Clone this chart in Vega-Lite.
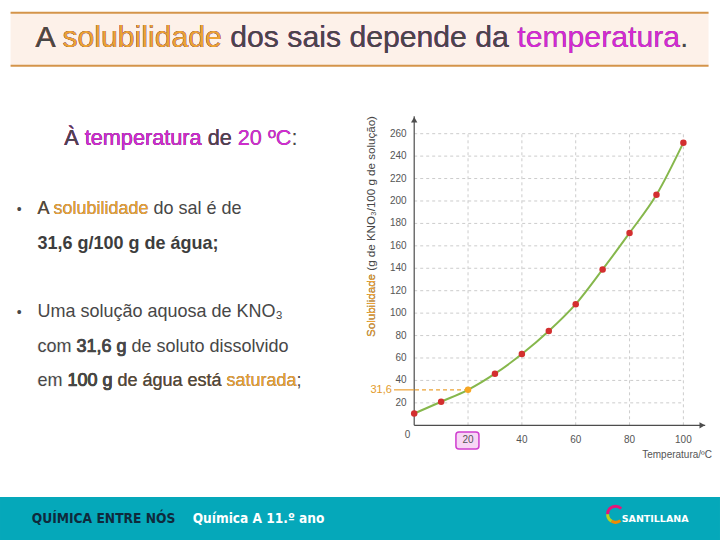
{
  "$schema": "https://vega.github.io/schema/vega-lite/v6.json",
  "background": "white",
  "padding": {"top": 11.7, "left": 0, "right": 0, "bottom": 0},
  "config": {
    "view": {"stroke": null},
    "font": "Liberation Sans"
  },
  "datasets": {
    "bordas": [{"borda": 0}, {"borda": 1}],
    "cabecalho": [
      {"texto": "A solubilidade dos sais depende da temperatura.", "cor": "escuro"},
      {"texto": "A solubilidade dos sais depende da temperatura", "cor": "magenta"},
      {"texto": "A solubilidade dos sais depende da", "cor": "escuro"},
      {"texto": "A solubilidade", "cor": "laranja"},
      {"texto": "A", "cor": "escuro"}
    ],
    "titulo_texto": [
      {"linha": 0, "texto": "À temperatura de 20 ºC:", "cor": "escuro"},
      {"linha": 0, "texto": "À temperatura de 20 ºC", "cor": "magenta"},
      {"linha": 0, "texto": "À temperatura de", "cor": "escuro"},
      {"linha": 0, "texto": "À temperatura", "cor": "magenta"},
      {"linha": 0, "texto": "À", "cor": "escuro"}
    ],
    "corpo": [
      {"linha": 2, "texto": "A solubilidade do sal é de", "cor": "escuro", "traco": "nenhum"},
      {"linha": 2, "texto": "A solubilidade", "cor": "laranja", "traco": "nenhum"},
      {"linha": 2, "texto": "A", "cor": "escuro", "traco": "nenhum"},
      {"linha": 5, "texto": "Uma solução aquosa de KNO₃", "cor": "escuro", "traco": "nenhum"},
      {"linha": 6, "texto": "com 31,6 g de soluto dissolvido", "cor": "escuro", "traco": "nenhum"},
      {"linha": 6, "texto": "com 31,6 g", "cor": "escuro", "traco": "negrito"},
      {"linha": 6, "texto": "com", "cor": "branco", "traco": "apagar"},
      {"linha": 6, "texto": "com", "cor": "escuro", "traco": "nenhum"},
      {"linha": 7, "texto": "em 100 g de água está saturada;", "cor": "escuro", "traco": "nenhum"},
      {"linha": 7, "texto": "em 100 g de água está saturada", "cor": "laranja", "traco": "nenhum"},
      {"linha": 7, "texto": "em 100 g de água está", "cor": "escuro", "traco": "nenhum"},
      {"linha": 7, "texto": "em 100 g", "cor": "escuro", "traco": "negrito"},
      {"linha": 7, "texto": "em", "cor": "branco", "traco": "apagar"},
      {"linha": 7, "texto": "em", "cor": "escuro", "traco": "nenhum"}
    ],
    "corpo_negrito": [{"linha": 3, "texto": "31,6 g/100 g de água;"}],
    "marcadores": [{"linha": 2, "simbolo": "•"}, {"linha": 5, "simbolo": "•"}],
    "kno3": [
      {"temperatura": 0, "solubilidade": 10.5},
      {"temperatura": 10, "solubilidade": 21},
      {"temperatura": 20, "solubilidade": 31.6},
      {"temperatura": 30, "solubilidade": 46},
      {"temperatura": 40, "solubilidade": 63.5},
      {"temperatura": 50, "solubilidade": 84},
      {"temperatura": 60, "solubilidade": 108},
      {"temperatura": 70, "solubilidade": 139},
      {"temperatura": 80, "solubilidade": 171.5},
      {"temperatura": 90, "solubilidade": 205.5},
      {"temperatura": 100, "solubilidade": 252}
    ],
    "grade_x": [{"temperatura": 20}, {"temperatura": 40}, {"temperatura": 60}, {"temperatura": 80}, {"temperatura": 100}],
    "grade_y": [
      {"solubilidade": 20}, {"solubilidade": 40}, {"solubilidade": 60}, {"solubilidade": 80},
      {"solubilidade": 100}, {"solubilidade": 120}, {"solubilidade": 140}, {"solubilidade": 160},
      {"solubilidade": 180}, {"solubilidade": 200}, {"solubilidade": 220}, {"solubilidade": 240},
      {"solubilidade": 260}
    ],
    "destaque": [{"temperatura": 20, "solubilidade": 31.6, "rotulo": "31,6"}],
    "anotacoes": [
      {"id": "origem", "texto": "0"},
      {"id": "eixo_x", "texto": "Temperatura/ºC"}
    ],
    "titulo_eixo_y": [
      {"texto": "Solubilidade (g de KNO₃/100 g de solução)", "cor": "escuro"},
      {"texto": "Solubilidade", "cor": "laranja"}
    ],
    "rodape": [
      {"parte": "colecao", "texto": "QUÍMICA ENTRE NÓS"},
      {"parte": "disciplina", "texto": "Química A  11.º ano"},
      {"parte": "editora", "texto": "SANTILLANA"}
    ]
  },
  "spacing": 36.2,
  "center": true,
  "vconcat": [
    {
      "spacing": 48.6,
      "center": true,
      "vconcat": [
        {
          "width": 698,
          "height": 53,
          "layer": [
            {
              "data": {"name": "bordas"},
              "transform": [{"filter": "datum.borda === 0"}],
              "mark": {"type": "rect", "color": "#fdf1e9"},
              "encoding": {
                "x": {"datum": 0, "type": "quantitative", "scale": {"domain": [0, 100], "nice": false, "zero": false}, "axis": null},
                "x2": {"datum": 100},
                "y": {"datum": 0, "type": "quantitative", "scale": {"domain": [0, 1], "nice": false, "zero": false}, "axis": null},
                "y2": {"datum": 1}
              }
            },
            {
              "data": {"name": "bordas"},
              "mark": {"type": "rule", "color": "#d4944a", "strokeWidth": 2},
              "encoding": {
                "x": {"datum": 0, "type": "quantitative", "axis": null},
                "x2": {"datum": 100},
                "y": {"field": "borda", "type": "quantitative", "axis": null}
              }
            },
            {
              "data": {"name": "cabecalho"},
              "mark": {"type": "text", "align": "left", "baseline": "alphabetic", "fontSize": 30.2, "font": "Liberation Sans"},
              "encoding": {
                "x": {"datum": 3.58, "type": "quantitative", "axis": null},
                "y": {"datum": 0.347, "type": "quantitative", "axis": null},
                "text": {"field": "texto"},
                "color": {"field": "cor", "type": "nominal", "legend": null,
                  "scale": {"domain": ["escuro", "laranja", "magenta", "branco"], "range": ["#474747", "#eca234", "#d42ad4", "#ffffff"]}}
              }
            }
          ]
        },
        {
          "spacing": 0,
          "hconcat": [
            {
              "width": 357.5,
              "height": 344.4,
              "layer": [
                {
                  "data": {"name": "titulo_texto"},
                  "mark": {"type": "text", "align": "left", "baseline": "alphabetic", "fontSize": 21.7},
                  "encoding": {
                    "x": {"datum": 15.66, "type": "quantitative", "scale": {"domain": [0, 100], "nice": false, "zero": false}, "axis": null},
                    "y": {"field": "linha", "type": "quantitative", "scale": {"domain": [-0.84, 9.16], "reverse": true, "nice": false, "zero": false}, "axis": null},
                    "text": {"field": "texto"},
                    "color": {"field": "cor", "type": "nominal", "legend": null,
                      "scale": {"domain": ["escuro", "laranja", "magenta", "branco"], "range": ["#474747", "#eca234", "#d42ad4", "#ffffff"]}}
                  }
                },
                {
                  "data": {"name": "corpo"},
                  "mark": {"type": "text", "align": "left", "baseline": "alphabetic", "fontSize": 18},
                  "encoding": {
                    "x": {"datum": 8.2, "type": "quantitative", "axis": null},
                    "y": {"field": "linha", "type": "quantitative", "axis": null},
                    "text": {"field": "texto"},
                    "color": {"field": "cor", "type": "nominal", "legend": null,
                      "scale": {"domain": ["escuro", "laranja", "magenta", "branco"], "range": ["#474747", "#eca234", "#d42ad4", "#ffffff"]}},
                    "stroke": {"condition": [
                      {"test": "datum.traco === 'negrito'", "value": "#474747"},
                      {"test": "datum.traco === 'apagar'", "value": "#ffffff"}
                    ], "value": "transparent"},
                    "strokeWidth": {"condition": [
                      {"test": "datum.traco === 'negrito'", "value": 0.75},
                      {"test": "datum.traco === 'apagar'", "value": 1.6}
                    ], "value": 0}
                  }
                },
                {
                  "data": {"name": "corpo_negrito"},
                  "mark": {"type": "text", "align": "left", "baseline": "alphabetic", "fontSize": 18, "fontWeight": "bold", "color": "#3d3d3d"},
                  "encoding": {
                    "x": {"datum": 8.2, "type": "quantitative", "axis": null},
                    "y": {"field": "linha", "type": "quantitative", "axis": null},
                    "text": {"field": "texto"}
                  }
                },
                {
                  "data": {"name": "marcadores"},
                  "mark": {"type": "text", "align": "center", "baseline": "alphabetic", "fontSize": 14, "color": "#474747"},
                  "encoding": {
                    "x": {"datum": 3.08, "type": "quantitative", "axis": null},
                    "y": {"field": "linha", "type": "quantitative", "axis": null},
                    "text": {"field": "simbolo"}
                  }
                }
              ]
            },
            {
              "width": 291,
              "height": 309,
              "layer": [
                {
                  "data": {"name": "grade_x"},
                  "mark": {"type": "rule", "color": "#cccccc", "strokeWidth": 1, "strokeDash": [3, 3]},
                  "encoding": {
                    "x": {"field": "temperatura", "type": "quantitative", "scale": {"domain": [0, 108.1], "nice": false, "zero": false}, "axis": null},
                    "y": {"datum": 0, "type": "quantitative", "scale": {"domain": [0, 275.5], "nice": false, "zero": false}, "axis": null},
                    "y2": {"datum": 260}
                  }
                },
                {
                  "data": {"name": "grade_y"},
                  "mark": {"type": "rule", "color": "#cccccc", "strokeWidth": 1, "strokeDash": [3, 3]},
                  "encoding": {
                    "y": {"field": "solubilidade", "type": "quantitative", "axis": null},
                    "x": {"datum": 0, "type": "quantitative", "axis": null},
                    "x2": {"datum": 100}
                  }
                },
                {
                  "data": {"name": "destaque"},
                  "mark": {"type": "rect", "fill": "#f7d6f5", "stroke": "#cf3ccf", "strokeWidth": 1.5, "cornerRadius": 3},
                  "encoding": {
                    "x": {"datum": 15.5, "type": "quantitative", "axis": null},
                    "x2": {"datum": 24.05},
                    "y": {"datum": -6, "type": "quantitative", "axis": null},
                    "y2": {"datum": -21.1}
                  }
                },
                {
                  "data": {"name": "destaque"},
                  "mark": {"type": "rule", "color": "#4d4d4d", "strokeWidth": 1.2},
                  "encoding": {
                    "x": {"datum": 0, "type": "quantitative", "axis": null},
                    "y": {"datum": 0, "type": "quantitative", "axis": null},
                    "y2": {"datum": 275.5}
                  }
                },
                {
                  "data": {"name": "destaque"},
                  "mark": {"type": "rule", "color": "#4d4d4d", "strokeWidth": 1.2},
                  "encoding": {
                    "y": {"datum": 0, "type": "quantitative", "axis": null},
                    "x": {"datum": 0, "type": "quantitative", "axis": null},
                    "x2": {"datum": 108.1}
                  }
                },
                {
                  "data": {"name": "destaque"},
                  "mark": {"type": "rule", "color": "#eca234", "strokeWidth": 1.2, "strokeDash": [4, 3]},
                  "encoding": {
                    "x": {"field": "temperatura", "type": "quantitative", "axis": null},
                    "x2": {"datum": 0},
                    "y": {"field": "solubilidade", "type": "quantitative", "axis": null}
                  }
                },
                {
                  "data": {"name": "destaque"},
                  "mark": {"type": "rule", "color": "#eca234", "strokeWidth": 1.2},
                  "encoding": {
                    "x": {"datum": -7.5, "type": "quantitative", "axis": null},
                    "x2": {"datum": 0},
                    "y": {"field": "solubilidade", "type": "quantitative", "axis": null}
                  }
                },
                {
                  "data": {"name": "kno3"},
                  "mark": {"type": "line", "interpolate": "monotone", "color": "#86b74c", "strokeWidth": 2},
                  "encoding": {
                    "x": {"field": "temperatura", "type": "quantitative", "axis": null},
                    "y": {"field": "solubilidade", "type": "quantitative", "axis": null}
                  }
                },
                {
                  "data": {"name": "kno3"},
                  "mark": {"type": "circle", "size": 42, "opacity": 1},
                  "encoding": {
                    "x": {"field": "temperatura", "type": "quantitative", "axis": null},
                    "y": {"field": "solubilidade", "type": "quantitative", "axis": null},
                    "color": {"condition": {"test": "datum.temperatura === 20", "value": "#f6a623"}, "value": "#d32f2f"}
                  }
                },
                {
                  "data": {"name": "destaque"},
                  "mark": {"type": "point", "shape": "triangle-up", "filled": true, "size": 40, "color": "#4d4d4d", "opacity": 1},
                  "encoding": {
                    "x": {"datum": 0, "type": "quantitative", "axis": null},
                    "y": {"datum": 272.5, "type": "quantitative", "axis": null}
                  }
                },
                {
                  "data": {"name": "destaque"},
                  "mark": {"type": "point", "shape": "triangle-right", "filled": true, "size": 40, "color": "#4d4d4d", "opacity": 1},
                  "encoding": {
                    "x": {"datum": 107, "type": "quantitative", "axis": null},
                    "y": {"datum": 0, "type": "quantitative", "axis": null}
                  }
                },
                {
                  "data": {"name": "grade_y"},
                  "mark": {"type": "text", "align": "right", "baseline": "middle", "fontSize": 10, "color": "#555555"},
                  "encoding": {
                    "x": {"datum": -2.82, "type": "quantitative", "axis": null},
                    "y": {"field": "solubilidade", "type": "quantitative", "axis": null},
                    "text": {"field": "solubilidade", "type": "quantitative"}
                  }
                },
                {
                  "data": {"name": "grade_x"},
                  "mark": {"type": "text", "align": "center", "baseline": "middle", "fontSize": 10, "color": "#555555"},
                  "encoding": {
                    "x": {"field": "temperatura", "type": "quantitative", "axis": null},
                    "y": {"datum": -13.5, "type": "quantitative", "axis": null},
                    "text": {"field": "temperatura", "type": "quantitative"}
                  }
                },
                {
                  "data": {"name": "destaque"},
                  "mark": {"type": "text", "align": "right", "baseline": "middle", "fontSize": 11, "color": "#e39a2c"},
                  "encoding": {
                    "x": {"datum": -8.3, "type": "quantitative", "axis": null},
                    "y": {"field": "solubilidade", "type": "quantitative", "axis": null},
                    "text": {"field": "rotulo"}
                  }
                },
                {
                  "data": {"name": "anotacoes"},
                  "transform": [{"filter": "datum.id === 'origem'"}],
                  "mark": {"type": "text", "align": "center", "baseline": "middle", "fontSize": 10, "color": "#555555"},
                  "encoding": {
                    "x": {"datum": -2.45, "type": "quantitative", "axis": null},
                    "y": {"datum": -8.9, "type": "quantitative", "axis": null},
                    "text": {"field": "texto"}
                  }
                },
                {
                  "data": {"name": "anotacoes"},
                  "transform": [{"filter": "datum.id === 'eixo_x'"}],
                  "mark": {"type": "text", "align": "right", "baseline": "middle", "fontSize": 10, "color": "#555555"},
                  "encoding": {
                    "x": {"datum": 110.6, "type": "quantitative", "axis": null},
                    "y": {"datum": -26.9, "type": "quantitative", "axis": null},
                    "text": {"field": "texto"}
                  }
                },
                {
                  "data": {"name": "titulo_eixo_y"},
                  "mark": {"type": "text", "align": "left", "baseline": "middle", "fontSize": 11.6, "angle": 270},
                  "encoding": {
                    "x": {"datum": -15.5, "type": "quantitative", "axis": null},
                    "y": {"datum": 78.7, "type": "quantitative", "axis": null},
                    "text": {"field": "texto"},
                    "color": {"field": "cor", "type": "nominal", "legend": null,
                      "scale": {"domain": ["escuro", "laranja", "magenta", "branco"], "range": ["#474747", "#eca234", "#d42ad4", "#ffffff"]}}
                  }
                }
              ]
            }
          ]
        }
      ]
    },
    {
      "width": 720,
      "height": 43.3,
      "layer": [
        {
          "data": {"name": "rodape"},
          "transform": [{"filter": "datum.parte === 'colecao'"}],
          "mark": {"type": "rect", "color": "#05a8ba"},
          "encoding": {
            "x": {"datum": 0, "type": "quantitative", "scale": {"domain": [0, 100], "nice": false, "zero": false}, "axis": null},
            "x2": {"datum": 100},
            "y": {"datum": 0, "type": "quantitative", "scale": {"domain": [0, 1], "nice": false, "zero": false}, "axis": null},
            "y2": {"datum": 1}
          }
        },
        {
          "data": {"name": "rodape"},
          "transform": [{"filter": "datum.parte === 'colecao'"}],
          "mark": {"type": "text", "align": "left", "baseline": "alphabetic", "fontSize": 13.7, "fontWeight": "bold",
            "font": "Liberation Sans Narrow, DejaVu Sans Condensed, sans-serif", "color": "#0f2a3c"},
          "encoding": {
            "x": {"datum": 4.4, "type": "quantitative", "axis": null},
            "y": {"datum": 0.386, "type": "quantitative", "axis": null},
            "text": {"field": "texto"}
          }
        },
        {
          "data": {"name": "rodape"},
          "transform": [{"filter": "datum.parte === 'disciplina'"}],
          "mark": {"type": "text", "align": "left", "baseline": "alphabetic", "fontSize": 13.6, "fontWeight": "bold",
            "font": "Liberation Sans Narrow, DejaVu Sans Condensed, sans-serif", "color": "#ffffff"},
          "encoding": {
            "x": {"datum": 26.76, "type": "quantitative", "axis": null},
            "y": {"datum": 0.386, "type": "quantitative", "axis": null},
            "text": {"field": "texto"}
          }
        },
        {
          "data": {"name": "rodape"},
          "transform": [{"filter": "datum.parte === 'editora'"}],
          "mark": {"type": "point", "filled": false, "strokeWidth": 3, "size": 256, "opacity": 1, "color": "#e5157a",
            "shape": "M 0.7 -0.7 A 1 1 0 0 0 -1 0"},
          "encoding": {
            "x": {"datum": 85.5, "type": "quantitative", "axis": null},
            "y": {"datum": 0.6, "type": "quantitative", "axis": null}
          }
        },
        {
          "data": {"name": "rodape"},
          "transform": [{"filter": "datum.parte === 'editora'"}],
          "mark": {"type": "point", "filled": false, "strokeWidth": 3, "size": 256, "opacity": 1, "color": "#b9d21c",
            "shape": "M -1 0 A 1 1 0 0 0 -0.5 0.87"},
          "encoding": {
            "x": {"datum": 85.5, "type": "quantitative", "axis": null},
            "y": {"datum": 0.6, "type": "quantitative", "axis": null}
          }
        },
        {
          "data": {"name": "rodape"},
          "transform": [{"filter": "datum.parte === 'editora'"}],
          "mark": {"type": "point", "filled": false, "strokeWidth": 3, "size": 256, "opacity": 1, "color": "#f18a00",
            "shape": "M -0.5 0.87 A 1 1 0 0 0 0.6 0.8"},
          "encoding": {
            "x": {"datum": 85.5, "type": "quantitative", "axis": null},
            "y": {"datum": 0.6, "type": "quantitative", "axis": null}
          }
        },
        {
          "data": {"name": "rodape"},
          "transform": [{"filter": "datum.parte === 'editora'"}],
          "mark": {"type": "text", "align": "left", "baseline": "alphabetic", "fontSize": 9.5, "fontWeight": "bold",
            "font": "DejaVu Sans", "color": "#ffffff"},
          "encoding": {
            "x": {"datum": 86.35, "type": "quantitative", "axis": null},
            "y": {"datum": 0.409, "type": "quantitative", "axis": null},
            "text": {"field": "texto"}
          }
        }
      ]
    }
  ]
}
